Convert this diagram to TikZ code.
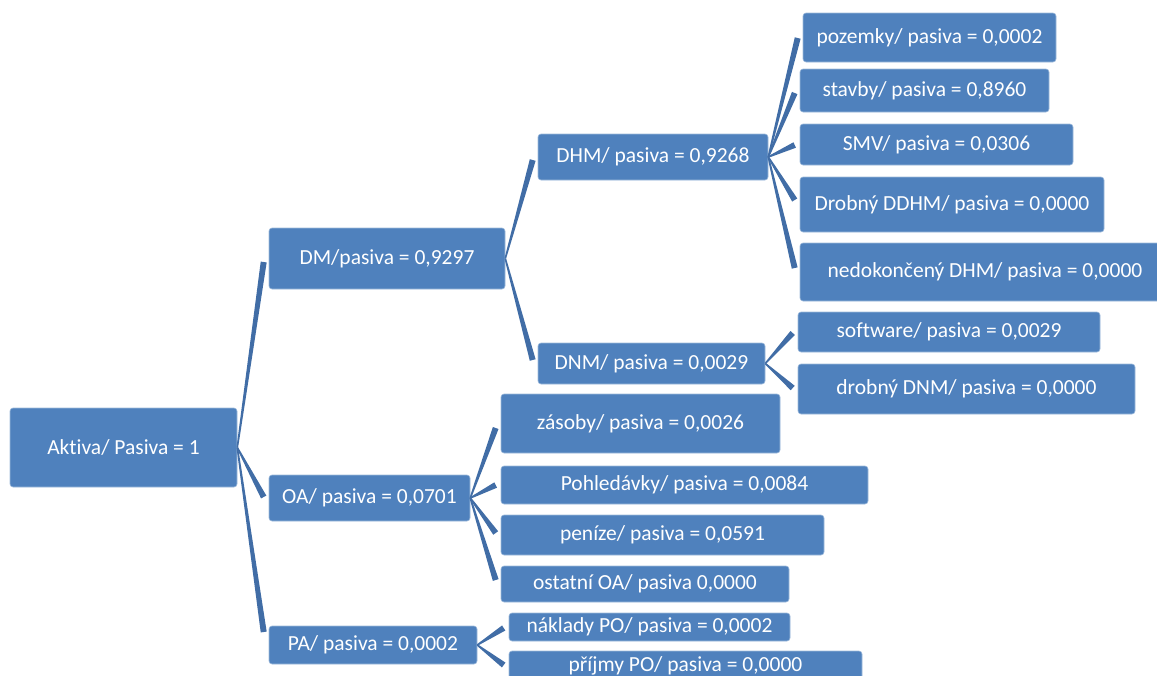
\documentclass[tikz,border=0pt]{standalone}
\usepackage{fontspec}
\setmainfont{Carlito}[RawFeature={-liga}]
\usetikzlibrary{calc}
\definecolor{boxblue}{HTML}{4F81BD}
\definecolor{linkblue}{HTML}{416DA6}
\tikzset{
  box/.style={fill=boxblue, draw=boxblue!55!white, line width=0.6pt, rounded corners=3pt,
    text=white, font=\fontsize{21.5}{24}\selectfont, inner sep=0pt},
  conn/.style={fill=linkblue}
}
\newcommand\mybox[6]{\node[box, minimum width={(#4-#2)*1pt}, minimum height={(#5-#3)*1pt}] (#1) at ({(#2+#4)/2},{(#3+#5)/2}) {#6};}
\newcommand\link[3]{%
  \coordinate (#2-end) at ($(#2.west |- 0,#3)+(-5,0)$);
  \fill[conn] ($(#1.east)!0.8pt!90:(#2-end)$) -- ($(#2-end)!3pt!-90:(#1.east)$) -- ($(#2-end)!3pt!90:(#1.east)$) -- ($(#1.east)!0.8pt!-90:(#2-end)$) -- cycle;}
\begin{document}
\begin{tikzpicture}[x=1pt,y=-1pt]
\useasboundingbox (0,0) rectangle (1157,675);
\clip (0,0) rectangle (1157,675);
\mybox{akt}{10}{408}{237}{487}{Aktiva/ Pasiva = 1}
\mybox{dm}{269}{228}{505}{289}{DM/pasiva = 0,9297}
\mybox{oa}{269}{475}{470}{521}{OA/ pasiva = 0,0701}
\mybox{pa}{269}{626}{477}{664}{PA/ pasiva = 0,0002}
\mybox{dhm}{538}{134}{768}{180}{DHM/ pasiva = 0,9268}
\mybox{dnm}{538}{343}{765}{384}{DNM/ pasiva = 0,0029}
\mybox{poz}{803}{13}{1056}{62}{pozemky/ pasiva = 0,0002}
\mybox{stav}{800}{69}{1049}{112}{stavby/ pasiva = 0,8960}
\mybox{smv}{800}{124}{1073}{165}{SMV/ pasiva = 0,0306}
\mybox{ddhm}{800}{177}{1104}{232}{Drobný DDHM/ pasiva = 0,0000}
\mybox{nedok}{800}{243}{1170}{301}{nedokončený DHM/ pasiva = 0,0000}
\mybox{soft}{798}{312}{1100}{352}{software/ pasiva = 0,0029}
\mybox{ddnm}{798}{364}{1135}{414}{drobný DNM/ pasiva = 0,0000}
\mybox{zas}{501}{394}{780}{453}{zásoby/ pasiva = 0,0026}
\mybox{pohl}{501}{466}{868}{504}{Pohledávky/ pasiva = 0,0084}
\mybox{pen}{501}{515}{824}{555}{peníze/ pasiva = 0,0591}
\mybox{ost}{501}{566}{789}{602}{ostatní OA/ pasiva 0,0000}
\mybox{nakl}{509}{613}{790}{641}{náklady PO/ pasiva = 0,0002}
\mybox{prij}{509}{651}{862}{681}{příjmy PO/ pasiva = 0,0000}
\link{akt}{dm}{262}
\link{akt}{oa}{497}
\link{akt}{pa}{632}
\link{dm}{dhm}{160}
\link{dm}{dnm}{360}
\link{dhm}{poz}{38}
\link{dhm}{stav}{93}
\link{dhm}{smv}{145}
\link{dhm}{ddhm}{200}
\link{dhm}{nedok}{268}
\link{dnm}{soft}{333}
\link{dnm}{ddnm}{388}
\link{oa}{zas}{428}
\link{oa}{pohl}{485}
\link{oa}{pen}{533}
\link{oa}{ost}{580}
\link{pa}{nakl}{628}
\link{pa}{prij}{665}
\end{tikzpicture}
\end{document}
